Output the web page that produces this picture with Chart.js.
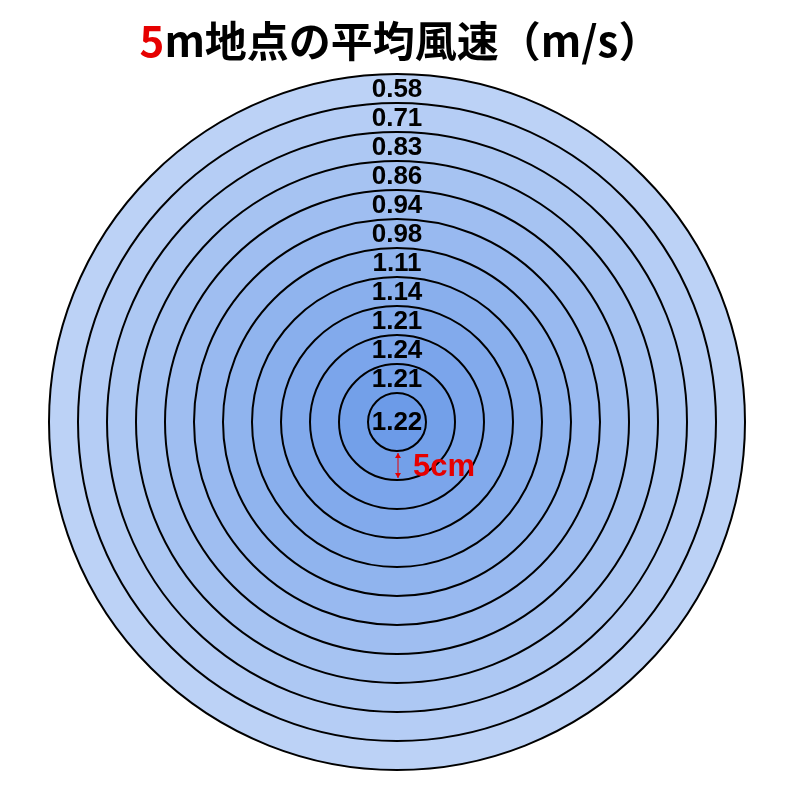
<!DOCTYPE html>
<html lang="ja">
<head>
<meta charset="utf-8">
<title>5m地点の平均風速</title>
<script src="https://cdn.jsdelivr.net/npm/chart.js@4.4.1/dist/chart.umd.min.js"></script>
<style>
    body { margin: 0; background: #fff; }
    #wrap { position: relative; width: 800px; height: 800px; }
    #title {
        position: absolute; left: 0; top: 0; width: 800px;
        text-align: center; line-height: 78px;
        font-family: "Noto Sans CJK JP", sans-serif; font-weight: 700; font-size: 42px;
        color: #000; margin: 0;
    }
    #title .red { color: #e60000; }
    canvas { position: absolute; left: 0; top: 0; }
</style>
</head>
<body>
<div id="wrap">
    <canvas id="myChart" width="800" height="800"></canvas>
    <h1 id="title"><span class="red">5</span>m地点の平均風速（m/s）</h1>
</div>
<script>
    // rings from outside (edge) to the centre
    const ringLabels = ['0.58', '0.71', '0.83', '0.86', '0.94', '0.98', '1.11', '1.14', '1.21', '1.24', '1.21', '1.22'];
    const windSpeeds = [0.58, 0.71, 0.83, 0.86, 0.94, 0.98, 1.11, 1.14, 1.21, 1.24, 1.21, 1.22];
    const ringColors = ['#bcd2f6', '#b5cdf5', '#adc8f3', '#a6c3f2', '#9fbef1', '#98b9f0',
                        '#90b4ee', '#89afed', '#82aaec', '#7ba5eb', '#73a0e9', '#6c9be8'];
    const scaleLabel = '5cm';

    const datasets = windSpeeds.map(function (v, i) {
        return {
            label: ringLabels[i],
            data: [v],
            backgroundColor: ringColors[i],
            borderWidth: 0
        };
    });

    // circle outlines, speed labels and the 5cm marker
    const ringDecor = {
        id: 'ringDecor',
        afterDatasetsDraw(chart) {
            const ctx = chart.ctx;
            ctx.save();
            ctx.strokeStyle = '#000';
            ctx.lineWidth = 2;
            chart.data.datasets.forEach(function (ds, i) {
                const arc = chart.getDatasetMeta(i).data[0];
                ctx.beginPath();
                ctx.arc(arc.x, arc.y, arc.outerRadius, 0, Math.PI * 2);
                ctx.stroke();
            });

            ctx.fillStyle = '#000';
            ctx.font = 'bold 26px "Liberation Sans", Arial, sans-serif';
            ctx.textAlign = 'center';
            ctx.textBaseline = 'middle';
            chart.data.datasets.forEach(function (ds, i) {
                const arc = chart.getDatasetMeta(i).data[0];
                const y = arc.innerRadius > 0 ? arc.y - (arc.innerRadius + arc.outerRadius) / 2 : arc.y;
                ctx.fillText(ds.label, arc.x, y + 1);
            });

            // marker across the second innermost ring
            const ring = chart.getDatasetMeta(windSpeeds.length - 2).data[0];
            const x = ring.x + 1;
            const y1 = ring.y + ring.innerRadius + 2;
            const y2 = ring.y + ring.outerRadius - 2;
            ctx.strokeStyle = '#e60000';
            ctx.fillStyle = '#e60000';
            ctx.lineWidth = 1;
            ctx.beginPath();
            ctx.moveTo(x, y1);
            ctx.lineTo(x, y2);
            ctx.stroke();
            ctx.beginPath();
            ctx.moveTo(x, y1); ctx.lineTo(x - 3, y1 + 5); ctx.lineTo(x + 3, y1 + 5); ctx.closePath();
            ctx.fill();
            ctx.beginPath();
            ctx.moveTo(x, y2); ctx.lineTo(x - 3, y2 - 5); ctx.lineTo(x + 3, y2 - 5); ctx.closePath();
            ctx.fill();
            ctx.font = 'bold 31px "Liberation Sans", Arial, sans-serif';
            ctx.textAlign = 'left';
            ctx.fillText(scaleLabel, x + 15, ring.y + (ring.innerRadius + ring.outerRadius) / 2 + 2);
            ctx.restore();
        }
    };

    const myChart = new Chart(document.getElementById('myChart'), {
        type: 'doughnut',
        data: { labels: ['風速'], datasets: datasets },
        options: {
            responsive: false,
            animation: false,
            events: [],
            cutout: 0,
            radius: 348,
            layout: { padding: { left: 40, right: 46, top: 70, bottom: 26 } },
            plugins: {
                legend: { display: false },
                tooltip: { enabled: false }
            }
        },
        plugins: [ringDecor]
    });
</script>
</body>
</html>
